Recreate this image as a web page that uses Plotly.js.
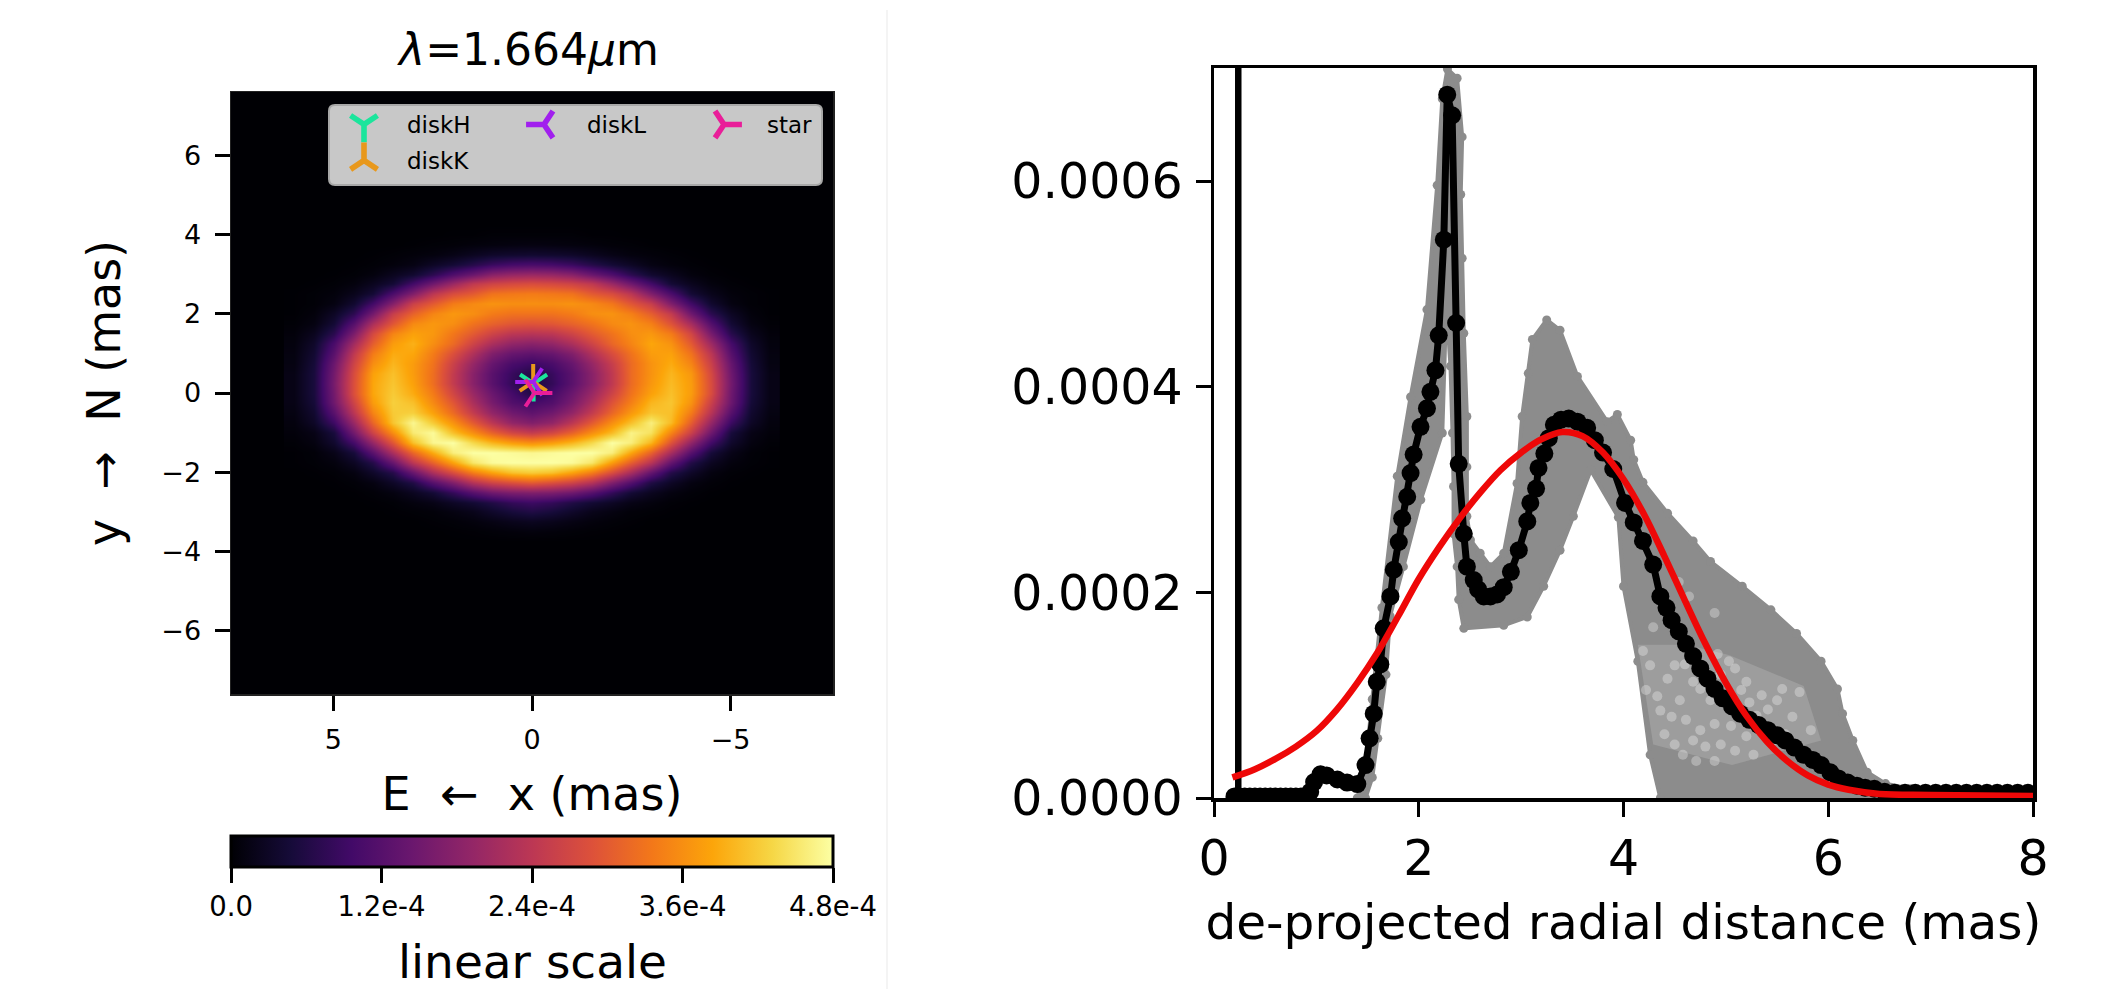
<!DOCTYPE html>
<html><head><meta charset="utf-8">
<script src="https://cdn.plot.ly/plotly-3.0.1.min.js"></script>
<style>html,body{margin:0;padding:0;background:#fff}</style></head>
<body><div id="chart" style="width:2117px;height:989px"></div>
<script>
// ---------- left panel: image, in units of 1e-5 ----------
const imgX = [6,5.5,5,4.5,4,3.5,3,2.5,2,1.5,1,.5,0,-.5,-1,-1.5,-2,-2.5,-3,-3.5,-4,-4.5,-5,-5.5,-6];
const imgY = [4.25,4,3.75,3.5,3.25,3,2.75,2.5,2.25,2,1.75,1.5,1.25,1,.75,.5,.25,0,-.25,-.5,-.75,-1,-1.25,-1.5,-1.75,-2,-2.25,-2.5,-2.75,-3,-3.25,-3.5,-3.75];
const imgRows = [
[0,0,0,0,0,0,0,0,0,0,0,0,0,0,0,0,0,0,0,0,0,0,0,0,0],
[0,0,0,0,0,0,0,0,.1,.1,.3,.3,.3,.3,.3,.1,.1,0,0,0,0,0,0,0,0],
[0,0,0,0,0,0,.1,.3,.4,.7,.9,1.1,1.2,1.1,.9,.7,.4,.3,.1,0,0,0,0,0,0],
[0,0,0,0,.1,.3,.6,.9,1.6,2.5,3.4,3.8,4,3.8,3.4,2.5,1.6,.9,.6,.3,.1,0,0,0,0],
[0,0,0,.1,.3,.7,1.4,3,4.5,6.5,8.7,10,10.5,10,8.7,6.5,4.5,3,1.4,.7,.3,.1,0,0,0],
[0,0,.1,.3,.9,2.4,4,7.2,11.2,14.5,18,19.5,20,19.5,18,14.5,11.2,7.2,4,2.4,.9,.3,.1,0,0],
[0,.1,.3,.9,2.4,4.5,9.7,15,20,24.5,26.5,27.5,28,27.5,26.5,24.5,20,15,9.7,4.5,2.4,.9,.3,.1,0],
[.1,.3,.7,2.1,4.5,10.7,17,24,28,30,33,33.6,34,33.6,33,30,28,24,17,10.7,4.5,2.1,.7,.3,.1],
[.1,.3,1.2,4,9.7,17.5,26,30,34,35.5,36.5,36,36,36,36.5,35.5,33.5,29.5,25.5,17,9.5,3.9,1.2,.3,.1],
[.1,.7,3,7.3,15.5,25.5,31,35,37,36,34,33,33,33,34,36,36.5,34.5,30.5,25,15,7.1,2.9,.7,.1],
[.3,1.2,4.5,12,22,29.5,35.5,37,36,33,31,29.5,29,29.5,31,33,35.5,36.5,34.5,29,21.5,11.7,4.4,1.2,.3],
[.6,2.4,7,16.5,27.5,35,38,37,33.5,30,26.5,24,23.5,24,26.5,30,33,36,37,34,27,16,6.8,2.3,.6],
[.9,3.5,10.5,21,30.5,37.5,39.5,36,32,26.5,22,19,18,19,22,26.5,31.5,35,38.5,36.5,30,20.5,10.2,3.4,.9],
[1.1,4.2,12.5,24.5,34,39,38.5,34,28.5,22.5,17,14,13,14,17,22.5,28,33,37.5,38,33,24,12.2,4.1,1.1],
[1.2,4.8,14.5,26.5,36,40,37.5,33,26,19.5,14,10.5,9,10.5,14,19.5,25.5,32,36.5,39,35,26,14,4.7,1.2],
[1.5,5.2,15.5,28,38,41,37.5,32.5,25,18,12.5,8.5,6,8.5,12.5,18,24.5,32,36.5,40,37,27.5,15,5.1,1.5],
[1.5,5.2,16,28.5,38.5,41.5,38,32.5,25,18,12.5,8,5,8,12.5,18,24.5,32,37,40.5,37.5,28,15.5,5.1,1.5],
[1.5,5.2,15.5,28.5,38.5,42,39,34,27,20,14.5,10,6,10,14.5,20,26.5,33,38,41,37.5,28,15,5.1,1.5],
[1.5,4.8,15,26.5,37.5,42.5,41,35.5,29.5,22,16,11.5,10,11.5,16,22,29,34.5,40,41.5,36.5,26,14.6,4.7,1.5],
[1.2,4,12.5,24,35,42,42.5,38,32,25,19,15,13,15,19,25,31.5,37,41.5,41,34,23.5,12.2,3.9,1.2],
[.9,3.2,9.2,20,31.5,41.5,47,42,36.5,30,24,19,17,19,24,30,36,41,46,40.5,30.5,19.5,9,3.1,.9],
[.6,1.6,5.2,15.5,26.5,36,45.5,47.5,41,36,31,27,25,27,31,36,40.5,46.5,44.5,35,26,15,5.1,1.6,.6],
[.3,1.1,3.8,10,19.5,29.5,41,47,48,43.5,40,37.5,36,37.5,40,43.5,48,46,40,29,19,9.7,3.7,1.1,.3],
[.1,.4,1.8,5,12.5,22,31.5,39,46,48,48,47.5,47,47.5,48,48,46,38.5,31,21.5,12.2,4.9,1.8,.4,.1],
[.1,.3,.9,2.8,6.4,14,24,31,38,45,47.5,48,48,48,47.5,45,37.5,30.5,23.5,13.7,6.2,2.7,.9,.3,.1],
[0,.1,.3,1.1,3.4,6.5,14,22,28,34,38,41,42,41,38,34,28,21.5,13.7,6.4,3.3,1.1,.3,.1,0],
[0,0,.1,.4,1.2,3.2,6,12,17,23,26.5,28.5,30,28.5,26.5,23,17,11.7,5.9,3.1,1.2,.4,.1,0,0],
[0,0,0,.1,.4,1.1,2.5,4.5,8,12,15,16.5,17,16.5,15,12,8,4.5,2.5,1.1,.4,.1,0,0,0],
[0,0,0,0,.1,.3,.9,1.6,3,4.3,6,8,9,8,6,4.3,3,1.6,.9,.3,.1,0,0,0,0],
[0,0,0,0,0,.1,.3,.5,1.2,2,3.5,5,6,5,3.5,2,1.2,.5,.3,.1,0,0,0,0,0],
[0,0,0,0,0,0,0,.2,.4,.8,1.4,2.1,2.5,2.1,1.4,.8,.4,.2,0,0,0,0,0,0,0],
[0,0,0,0,0,0,0,0,.1,.2,.4,.6,.8,.6,.4,.2,.1,0,0,0,0,0,0,0,0],
[0,0,0,0,0,0,0,0,0,0,0,0,0,0,0,0,0,0,0,0,0,0,0,0,0]
];
const starNames = ['diskH','diskK','diskL','star'];
const starX = [-0.04,-0.03,-0.03,-0.06];
const starY = [0.24,0.28,0.28,0.0];
const cbTicks = [0,1.2e-4,2.4e-4,3.6e-4,4.8e-4];
const cbLabels = ['0.0','1.2e-4','2.4e-4','3.6e-4','4.8e-4'];

// ---------- right panel, values in units of 1e-4 ----------
const blackR = [.2,.25,.3,.35,.4,.45,.5,.55,.6,.65,.7,.75,.8,.85,.9,.94,.978,1.04,1.1,1.205,1.3,1.4,1.48,1.52,1.56,1.59,1.625,1.658,1.724,1.756,1.805,1.838,1.887,1.92,1.95,2.017,2.08,2.114,2.163,2.195,2.245,2.278,2.326,2.365,2.39,2.44,2.47,2.537,2.58,2.635,2.7,2.765,2.83,2.9,2.977,3.06,3.09,3.146,3.17,3.227,3.27,3.32,3.39,3.465,3.55,3.645,3.72,3.8,3.9,4.015,4.1,4.19,4.29,4.36,4.42,4.47,4.54,4.61,4.68,4.75,4.82,4.89,4.97,5.06,5.14,5.23,5.32,5.41,5.5,5.58,5.67,5.76,5.85,5.93,6.02,6.1,6.19,6.28,6.36,6.45,6.55,6.65,6.75,6.85,6.95,7.05,7.15,7.25,7.35,7.45,7.55,7.65,7.75,7.85,7.95];
const blackV = [.015,.015,.015,.015,.015,.015,.015,.015,.015,.015,.015,.015,.015,.015,.015,.06,.155,.23,.22,.18,.15,.135,.32,.58,.82,1.13,1.3,1.65,1.96,2.22,2.49,2.72,2.93,3.16,3.34,3.61,3.79,3.95,4.16,4.5,5.43,6.84,6.64,4.62,3.25,2.57,2.25,2.12,2.03,1.96,1.96,1.98,2.05,2.2,2.41,2.69,2.87,3.01,3.21,3.35,3.5,3.63,3.68,3.69,3.66,3.6,3.48,3.36,3.2,2.87,2.68,2.5,2.27,1.96,1.85,1.73,1.62,1.5,1.38,1.26,1.16,1.06,.97,.89,.82,.76,.71,.66,.61,.56,.49,.42,.37,.32,.25,.19,.15,.12,.1,.09,.06,.05,.05,.05,.05,.05,.05,.05,.05,.05,.05,.05,.05,.05,.05];
const redR = [.18,.4,.6,.8,1,1.2,1.4,1.6,1.8,2,2.2,2.4,2.6,2.8,3,3.2,3.4,3.6,3.8,4,4.2,4.4,4.6,4.8,5,5.2,5.4,5.6,5.8,6,6.2,6.5,7,8];
const redV = [.2,.28,.38,.5,.65,.86,1.12,1.42,1.77,2.13,2.44,2.72,2.97,3.19,3.36,3.49,3.56,3.52,3.36,3.1,2.76,2.35,1.92,1.5,1.12,.8,.55,.36,.22,.13,.08,.04,.03,.02];
const innerR = [0.237,0.237];
const innerV = [0,7.2];
const cloudR = [1.4,1.48,1.546,1.64,1.79,1.92,2.08,2.18,2.23,2.28,2.375,2.424,2.41,2.424,2.44,2.47,2.47,2.47,2.505,2.6,2.7,2.83,2.96,3.01,3.07,3.11,3.25,3.38,3.55,3.84,3.94,4.07,4.1,4.19,4.43,4.68,4.85,5.16,5.44,5.69,5.93,6.09,6.14,6.24,6.38,6.56,6.8,7,4.36,4.26,4.14,4,3.95,3.68,3.51,3.38,3.22,3.06,2.83,2.44,2.39,2.375,2.34,2.34,2.33,2.31,2.28,2.26,2.23,2.02,1.85,1.72,1.68,1.6,1.546,1.48];
const cloudV = [0,.3,.96,1.85,3.13,3.9,4.75,5.96,6.8,7.09,7,6.43,5.87,5.25,4.52,3.71,3.22,2.74,2.51,2.38,2.25,2.38,3.06,3.71,4.13,4.46,4.65,4.55,4.1,3.66,3.73,3.48,3.29,3.07,2.77,2.5,2.3,2.06,1.83,1.6,1.33,1.06,.82,.56,.25,.14,.09,0,0,.42,1.33,2.06,2.73,3.19,2.74,2.41,2.06,1.76,1.68,1.65,1.93,2.25,2.57,3.03,3.55,4.2,4.65,4.52,3.55,2.9,2.25,1.77,1.2,.58,.2,0];
const paleR = [4.14,4.61,5.03,5.76,5.93,5.06,4.29];
const paleV = [1.49,1.49,1.39,1.09,.56,.32,.52];
const gapR = [5.09,5.03,5.2,4.68,4.75,4.43,4.5,4.33,4.47,4.61,4.75,4.89,4.68,4.5,4.95,5.09,5.27,4.89,4.71,5.23,5.41,5.55,5.65,5.72,5.83,5.58,5.37,4.64,4.89,4.54,4.29,4.19,4.26,4.36,4.55,4.85,4.95,5.15,5.3,5.5,5.45,5.2,4.4,4.58,4.8,5.05,5.35,4.22,4.6,4.92,5.62];
const gapV = [1.26,1.33,1.13,1.13,1.06,1.16,1.29,.99,.79,.76,.66,.72,.56,.52,.52,.46,.42,.36,.36,.93,.86,1.06,.79,1.03,.66,.62,.69,1.96,1.8,2.1,1.66,1.43,1.29,.85,.95,.95,1.2,1.05,.8,.95,.55,.6,.62,.42,.5,.7,1,1.05,1.3,1.4,.55];

const inferno = [[0,'#000004'],[.1,'#160b39'],[.2,'#420a68'],[.3,'#6a176e'],[.4,'#932667'],[.5,'#bc3754'],[.6,'#dd513a'],[.7,'#f37819'],[.8,'#fca50a'],[.9,'#f6d746'],[1,'#fcffa4']];
const e4 = a => a.map(v => v*1e-4);
const FONT = 'DejaVu Sans, sans-serif';
const W = 2117, H = 989;
const starColors = ['#1be59c','#e8981c','#a11fee','#e91e99'];
const starSymbols = ['y-down','y-up','y-left','y-right'];
const starRank = [1,4,2,3];
const starLegend = ['legend','legend2','legend','legend'];

const traces = [{
  type:'heatmap', x:imgX, y:imgY, z:imgRows.map(r=>r.map(v=>v*1e-5)), zmin:0, zmax:4.8e-4,
  colorscale:inferno, zsmooth:'best', xaxis:'x', yaxis:'y', hoverinfo:'skip',
  colorbar:{orientation:'h', x:532/W, xanchor:'center', y:1-836/H, yanchor:'top', lenmode:'pixels', len:602,
    thicknessmode:'pixels', thickness:31, xpad:0, ypad:0, outlinewidth:3, outlinecolor:'#000',
    tickmode:'array', tickvals:cbTicks, ticktext:cbLabels, ticks:'outside', ticklen:15, tickwidth:3, tickcolor:'#000',
    tickfont:{family:FONT,size:27.5,color:'#000'}}
}];
starNames.forEach((n,i)=>traces.push({type:'scatter', mode:'markers', name:n, x:[starX[i]], y:[starY[i]], xaxis:'x', yaxis:'y',
  legend:starLegend[i], legendrank:starRank[i], marker:{symbol:starSymbols[i], size:22.5, color:starColors[i], line:{color:starColors[i], width:4}}}));
traces.push(
 {type:'scatter', mode:'lines+markers', x:cloudR, y:e4(cloudV), xaxis:'x2', yaxis:'y2', showlegend:false, fill:'toself', fillcolor:'#8c8c8c',
  line:{color:'#8c8c8c', width:4}, marker:{size:9,color:'#8c8c8c',line:{width:0}}},
 {type:'scatter', mode:'lines', x:paleR, y:e4(paleV), xaxis:'x2', yaxis:'y2', showlegend:false, fill:'toself', fillcolor:'rgba(190,190,190,.35)', line:{width:0}},
 {type:'scatter', mode:'markers', x:gapR, y:e4(gapV), xaxis:'x2', yaxis:'y2', showlegend:false,
  marker:{size:10,color:'rgba(255,255,255,.3)',line:{width:0}}},
 {type:'scatter', mode:'lines', x:innerR, y:e4(innerV), xaxis:'x2', yaxis:'y2', showlegend:false, line:{color:'#000',width:6.5}},
 {type:'scatter', mode:'lines+markers', x:blackR, y:e4(blackV), xaxis:'x2', yaxis:'y2', showlegend:false,
  line:{color:'#000',width:7}, marker:{size:18,color:'#000'}},
 {type:'scatter', mode:'lines', x:redR, y:e4(redV), xaxis:'x2', yaxis:'y2', showlegend:false, line:{color:'#ee0808',width:6.5,shape:'spline'}}
);

const tickBase = {ticks:'outside', ticklen:15, tickwidth:3, tickcolor:'#000', showgrid:false, zeroline:false};
const legendBase = {orientation:'h', xanchor:'left', yanchor:'top', bgcolor:'rgba(0,0,0,0)', borderwidth:0,
    font:{family:FONT,size:23,color:'#000'}, entrywidth:89, entrywidthmode:'pixels', itemwidth:76, traceorder:'normal', itemsizing:'trace'};
const layout = {
  width:W, height:H, margin:{l:0,r:0,t:0,b:0}, paper_bgcolor:'#fff', plot_bgcolor:'#fff',
  font:{family:FONT,color:'#000'}, hovermode:false,
  title:{text:'<i>λ</i>=1.664<i>μ</i>m', x:529/W, xanchor:'center', y:1-50/H, yanchor:'middle', font:{family:FONT,size:44,color:'#000'}},
  xaxis:Object.assign({}, tickBase, {domain:[231/W,833/W], range:[7.58,-7.58], tickvals:[5,0,-5], anchor:'y', showline:true, linecolor:'#222', linewidth:1.5, mirror:true,
    tickfont:{family:FONT,size:27}, ticklabelstandoff:6, title:{text:'E \u00a0←\u00a0 x (mas)', standoff:24, font:{family:FONT,size:46}}}),
  yaxis:Object.assign({}, tickBase, {domain:[1-694/H,1-92/H], range:[-7.59,7.59], tickvals:[-6,-4,-2,0,2,4,6], anchor:'x', showline:true, linecolor:'#222', linewidth:1.5, mirror:true,
    tickfont:{family:FONT,size:27}, ticklabelstandoff:8, title:{text:'y \u00a0→\u00a0 N (mas)', standoff:26, font:{family:FONT,size:46}}}),
  xaxis2:Object.assign({}, tickBase, {domain:[1214/W,2033/W], range:[0,8], tickvals:[0,2,4,6,8], anchor:'y2', showline:true, linecolor:'#000', linewidth:3.5, mirror:true,
    tickfont:{family:FONT,size:49}, title:{text:'de-projected radial distance (mas)', standoff:20, font:{family:FONT,size:48.5}}}),
  yaxis2:Object.assign({}, tickBase, {domain:[1-798/H,1-68/H], range:[0,7.1e-4], tickvals:[0,2e-4,4e-4,6e-4], tickformat:'.4f', anchor:'x2', showline:true, linecolor:'#000', linewidth:3.5, mirror:true,
    tickfont:{family:FONT,size:49}, ticklabelstandoff:3}),
  legend:Object.assign({}, legendBase, {x:321/W, y:1-103/H}),
  legend2:Object.assign({}, legendBase, {x:321/W, y:1-139/H}),
  annotations:[{xref:'paper', yref:'paper', x:532/W, y:1-961/H, xanchor:'center', yanchor:'middle', showarrow:false, text:'linear scale', font:{family:FONT,size:47,color:'#000'}}],
  shapes:[
    {type:'rect', xref:'x domain', yref:'y domain', x0:0, x1:1, y0:0, y1:1, layer:'below', fillcolor:'#000004', line:{width:0}},
    {type:'path', xref:'paper', yref:'paper', layer:'above',
     path:`M ${335/W} ${1-105/H} L ${816/W} ${1-105/H} Q ${822/W} ${1-105/H} ${822/W} ${1-111/H} L ${822/W} ${1-179/H} Q ${822/W} ${1-185/H} ${816/W} ${1-185/H} L ${335/W} ${1-185/H} Q ${329/W} ${1-185/H} ${329/W} ${1-179/H} L ${329/W} ${1-111/H} Q ${329/W} ${1-105/H} ${335/W} ${1-105/H} Z`,
     fillcolor:'#c8c8c8', line:{color:'#a8a8a8',width:2}},
    {type:'line', xref:'paper', yref:'paper', x0:887/W, x1:887/W, y0:0, y1:1-10/H, line:{color:'#f1f1f1',width:1.5}}
  ]
};
Plotly.newPlot('chart', traces, layout, {displayModeBar:false, staticPlot:true}).then(()=>{
  // the library caps legend glyphs at 16 px; the reference shows them at marker size
  document.querySelectorAll('.legendsymbols path').forEach(p=>{
    const t = p.getAttribute('transform') || '';
    p.setAttribute('transform', t + ' scale(1.4)');
  });
});
</script></body></html>
